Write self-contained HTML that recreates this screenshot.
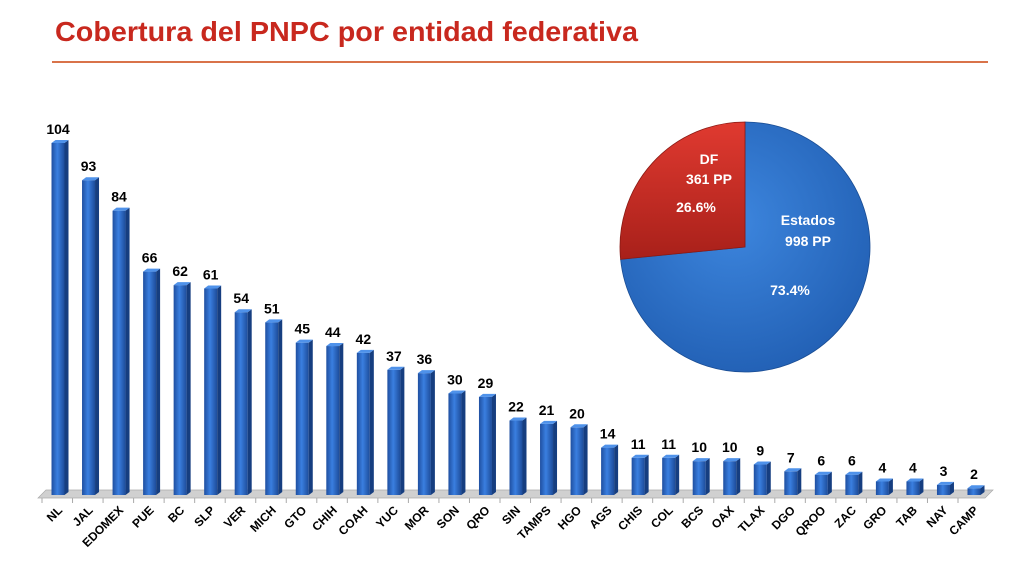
<!DOCTYPE html>
<html><head><meta charset="utf-8"><style>
html,body{margin:0;padding:0;background:#fff;}
svg{display:block;font-family:"Liberation Sans",sans-serif;}
</style></head><body>
<svg id="c" width="1024" height="576" viewBox="0 0 1024 576">
<defs>
<linearGradient id="barG" x1="0" x2="1" y1="0" y2="0">
<stop offset="0" stop-color="#1f4fa0"/><stop offset="0.45" stop-color="#3a7fe0"/><stop offset="1" stop-color="#1d4c9a"/>
</linearGradient>
<radialGradient id="pieB" cx="0.45" cy="0.4" r="0.7">
<stop offset="0" stop-color="#3d86de"/><stop offset="1" stop-color="#1f5cb0"/>
</radialGradient>
<linearGradient id="pieR" x1="0" x2="0" y1="0" y2="1">
<stop offset="0" stop-color="#e03a30"/><stop offset="1" stop-color="#a8201a"/>
</linearGradient>
</defs>
<text x="55" y="41" font-size="28" font-weight="bold" fill="#c8281e" textLength="583" lengthAdjust="spacingAndGlyphs">Cobertura del PNPC por entidad federativa</text>
<line x1="52" y1="62" x2="988" y2="62" stroke="#d9734a" stroke-width="2"/>
<polygon points="38,498 985,498 993,490 46,490" fill="#d0d0d0" stroke="#aaa" stroke-width="0.7"/>
<g id="bars"></g>
<g id="pie"></g>
</svg>
<script>
const categories=["NL","JAL","EDOMEX","PUE","BC","SLP","VER","MICH","GTO","CHIH","COAH","YUC","MOR","SON","QRO","SIN","TAMPS","HGO","AGS","CHIS","COL","BCS","OAX","TLAX","DGO","QROO","ZAC","GRO","TAB","NAY","CAMP"];
const values=[104,93,84,66,62,61,54,51,45,44,42,37,36,30,29,22,21,20,14,11,11,10,10,9,7,6,6,4,4,3,2];
const pieLabels=["Estados","DF"];
const pieValues=[998,361];
const NS="http://www.w3.org/2000/svg";
const bg=document.getElementById('bars');
const n=categories.length;
const x0=58, x1=974;
const xScale=i=>x0+i*(x1-x0)/(n-1);
const base=495, k=3.385;
const yScale=v=>base-v*k;
function mk(t,a,p){const e=document.createElementNS(NS,t);for(const q in a)e.setAttribute(q,a[q]);(p||bg).appendChild(e);return e;}
categories.forEach((c,i)=>{
 const cx=xScale(i), top=yScale(values[i]), w=13;
 const g=mk('g',{});
 
 
 mk('rect',{x:cx-w/2,y:top,width:w,height:base-top,fill:'url(#barG)'},g);
 mk('polygon',{points:`${cx+w/2},${top} ${cx+w/2+4},${top-3} ${cx+w/2+4},${base-3} ${cx+w/2},${base}`,fill:'#163e80'},g);
 mk('polygon',{points:`${cx-w/2},${top} ${cx-w/2+4},${top-3} ${cx+w/2+4},${top-3} ${cx+w/2},${top}`,fill:'#4f92ea'},g);
 const tk=mk('line',{x1:cx-16,y1:498,x2:cx-16,y2:503,stroke:'#aaa'});
 
 
 const vl=mk('text',{x:cx,y:top-9,'font-size':14,'font-weight':'bold','text-anchor':'middle',fill:'#000'});
 vl.textContent=values[i];
 
 
 const lx=cx+5, ly=511;
 const tl=mk('text',{x:lx,y:ly,'font-size':12,'font-weight':'bold','text-anchor':'end',fill:'#000',transform:`rotate(-45 ${lx} ${ly})`});
 tl.textContent=c;
 
 
});
const pg=document.getElementById('pie');
const pcx=745,pcy=247,r=125;
const tot=pieValues.reduce((a,b)=>a+b,0);
let ang=0;
const fills=['url(#pieB)','url(#pieR)'];
pieValues.forEach((v,i)=>{
 const a0=ang, a1=ang+v/tot*2*Math.PI; ang=a1;
 const p=(a)=>[pcx+r*Math.sin(a),pcy-r*Math.cos(a)];
 const [sx,sy]=p(a0),[ex,ey]=p(a1);
 const s=mk('path',{d:`M${pcx},${pcy} L${sx},${sy} A${r},${r} 0 ${a1-a0>Math.PI?1:0} 1 ${ex},${ey} Z`,fill:fills[i],stroke:i?'#8a1a14':'#1a4d94','stroke-width':0.8},pg);
 
 
});
function tx(x,y,s,nm){const t=mk('text',{x:x,y:y,'font-size':14,'font-weight':'bold','text-anchor':'middle',fill:'#fff'},pg);t.textContent=s;}
tx(808,225,pieLabels[0],'pie-label-estados');
tx(808,246,pieValues[0]+' PP','pie-value-estados');
tx(790,295,(pieValues[0]/tot*100).toFixed(1)+'%','pie-pct-estados');
tx(709,164,pieLabels[1],'pie-label-df');
tx(709,184,pieValues[1]+' PP','pie-value-df');
tx(696,212,(pieValues[1]/tot*100).toFixed(1)+'%','pie-pct-df');
</script>
</body></html>
